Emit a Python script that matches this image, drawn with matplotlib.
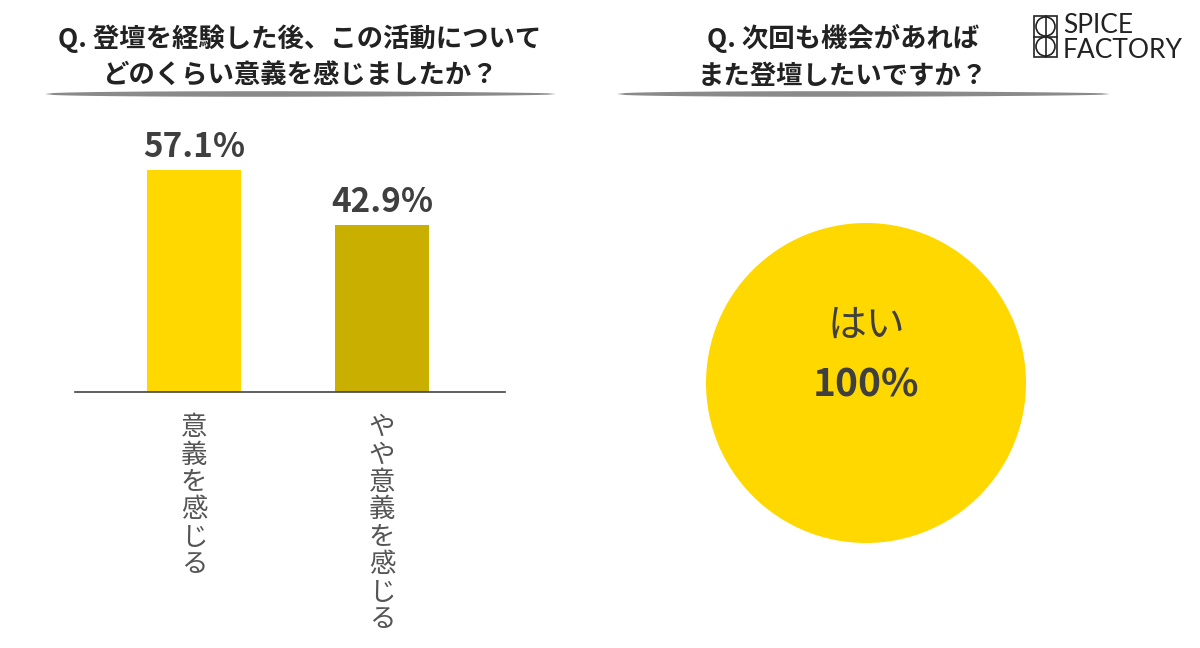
import matplotlib
matplotlib.use("Agg")
import matplotlib.pyplot as plt
from matplotlib.patches import Rectangle, Circle, Polygon
import numpy as np

plt.rcParams['font.family'] = ['Noto Sans CJK JP', 'DejaVu Sans']

# data
bar_labels = ["意義を感じる", "やや意義を感じる"]
bar_values = [57.1, 42.9]
bar_colors = ["#FFD800", "#C9AF00"]
pie_labels = ["はい"]
pie_values = [100.0]
title_left = "Q. 登壇を経験した後、この活動について\nどのくらい意義を感じましたか？"
title_right = "Q. 次回も機会があれば\nまた登壇したいですか？"

W, H = 1200, 648
fig = plt.figure(figsize=(12, 6.48), dpi=100)
dark = "#3f3f3f"


def fx(px):
    return px / W


def fy(py):
    return 1 - py / H


# titles
fig.text(fx(300), fy(57), title_left, ha="center", va="center", fontsize=19,
         fontweight="bold", color="#222222", linespacing=1.45)
fig.text(fx(843), fy(57), title_right, ha="center", va="center", fontsize=19,
         fontweight="bold", color="#222222", linespacing=1.45)


# brush underlines
def brush(x0, x1, yc):
    xs = np.linspace(0, 1, 60)
    half = 2.8 * np.sin(np.pi * xs) ** 0.4 * (1.15 - 0.35 * xs)
    px = x0 + (x1 - x0) * xs
    top = [(fx(a), fy(yc - h)) for a, h in zip(px, half)]
    bot = [(fx(a), fy(yc + h)) for a, h in zip(px[::-1], half[::-1])]
    fig.patches.append(Polygon(top + bot, closed=True, transform=fig.transFigure,
                               facecolor="#8a8a8a", edgecolor="none"))


brush(45, 556, 94)
brush(617, 1110, 94)

# bar chart
ax = fig.add_axes([fx(75), fy(392), fx(430), (392 - 100) / H])
x = np.arange(len(bar_values))
ax.bar(x, bar_values, width=0.5, color=bar_colors)
ax.set_xlim(-0.633, 1.654)
ax.set_ylim(0, 75)
for xi, v in zip(x, bar_values):
    ax.text(xi, v + 1.5, f"{v:.1f}%", ha="center", va="bottom", fontsize=24,
            fontweight="bold", color=dark)
for s in ["top", "right", "left"]:
    ax.spines[s].set_visible(False)
ax.spines["bottom"].set_color("#444444")
ax.spines["bottom"].set_linewidth(1.2)
ax.set_yticks([])
ax.set_xticks(x)
ax.set_xticklabels(["\n".join(lbl) for lbl in bar_labels], fontsize=19,
                   color="#555555", linespacing=1.02, va="top")
ax.tick_params(axis="x", length=0, pad=16)

# pie chart
pax = fig.add_axes([fx(706), fy(543), fx(320), 320 / H])
pax.pie(pie_values, colors=["#FFD800"], startangle=90, radius=1,
        wedgeprops=dict(edgecolor="none"))
pax.set_xlim(-1, 1)
pax.set_ylim(-1, 1)
pax.set_aspect("equal")
pax.text(0, 0.36, pie_labels[0], ha="center", va="center", fontsize=28, color=dark)
pax.text(0, -0.01, f"{pie_values[0]:.0f}%", ha="center", va="center", fontsize=28,
         fontweight="bold", color=dark)

# logo
lw = 1.2
fig.patches.append(Rectangle((fx(1034), fy(57)), fx(23), (57 - 16) / H, fill=False,
                             edgecolor="#222222", linewidth=lw, transform=fig.transFigure))
fig.add_artist(plt.Line2D([fx(1034), fx(1057)], [fy(36.5), fy(36.5)], color="#222222",
                          linewidth=lw))
fig.add_artist(plt.Line2D([fx(1045.5), fx(1045.5)], [fy(16), fy(57)], color="#222222",
                          linewidth=lw))
lax = fig.add_axes([fx(1034), fy(57), fx(23), (57 - 16) / H])
lax.set_xlim(0, 23)
lax.set_ylim(0, 41)
lax.set_aspect("equal")
lax.axis("off")
lax.add_patch(Circle((11.5, 30.5), 9.5, fill=False, edgecolor="#222222", linewidth=lw))
lax.add_patch(Circle((11.5, 10.5), 9.5, fill=False, edgecolor="#222222", linewidth=lw))
fig.text(fx(1063), fy(38), "SPICE\nFACTORY", ha="left", va="center", fontsize=19,
         family=["Lato", "DejaVu Sans"], fontweight="normal", color="#222222",
         linespacing=1.0)

fig.savefig("out.png", dpi=100, facecolor="white")
